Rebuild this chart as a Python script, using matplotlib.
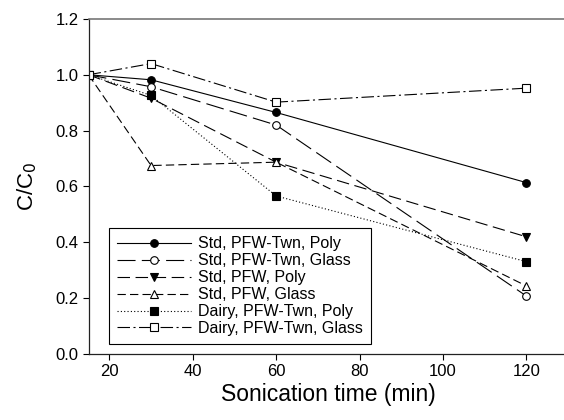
import matplotlib
matplotlib.use('Agg')
import matplotlib.pyplot as plt

# Sonication time (min)
time_min = [15, 30, 60, 120]

# C/C0 for each treatment
std_twn_poly = [1.0, 0.982, 0.865, 0.614]
std_twn_glass = [1.0, 0.957, 0.820, 0.208]
std_pfw_poly = [1.0, 0.916, 0.687, 0.420]
std_pfw_glass = [1.0, 0.675, 0.687, 0.244]
dairy_twn_poly = [1.0, 0.926, 0.566, 0.331]
dairy_twn_glass = [1.0, 1.040, 0.902, 0.952]

labels = ['Std, PFW-Twn, Poly', 'Std, PFW-Twn, Glass', 'Std, PFW, Poly',
          'Std, PFW, Glass', 'Dairy, PFW-Twn, Poly', 'Dairy, PFW-Twn, Glass']

plt.rcParams['font.family'] = ['Liberation Sans', 'DejaVu Sans']
plt.rcParams['lines.scale_dashes'] = False

fig = plt.figure(figsize=(5.64, 4.2), dpi=100)
ax = fig.add_axes([0.157, 0.157, 0.850, 0.798])

series = [
    (std_twn_poly, 'o', 'black', '-'),
    (std_twn_glass, 'o', 'white', (0, (13, 4.5))),
    (std_pfw_poly, 'v', 'black', (0, (9, 4))),
    (std_pfw_glass, '^', 'white', (0, (6, 3))),
    (dairy_twn_poly, 's', 'black', (0, (0.8, 1.6))),
    (dairy_twn_glass, 's', 'white', (0, (9, 2.5, 1.5, 2.5))),
]

for (vals, mk, fc, ls), lab in zip(series, labels):
    ax.plot(time_min, vals, linestyle=ls, color='black', linewidth=0.8,
            marker=mk, markersize=5.5, markerfacecolor=fc,
            markeredgecolor='black', markeredgewidth=0.8, label=lab)

ax.set_xlim(15, 130)
ax.set_ylim(0, 1.2)
ax.set_xticks([20, 40, 60, 80, 100, 120])
ax.set_yticks([0.0, 0.2, 0.4, 0.6, 0.8, 1.0, 1.2])
ax.set_yticklabels(['0.0', '0.2', '0.4', '0.6', '0.8', '1.0', '1.2'])
ax.tick_params(direction='out', length=4, width=0.8, labelsize=12, pad=3,
               top=False, right=False)

for side in ['left', 'bottom']:
    ax.spines[side].set_color('#222222')
    ax.spines[side].set_linewidth(0.9)
ax.spines['top'].set_color('#777777')
ax.spines['top'].set_linewidth(1.2)
ax.spines['right'].set_visible(False)

ax.set_xlabel('Sonication time (min)', fontsize=16.5, labelpad=3)
ax.set_ylabel('C/C$_0$', fontsize=16, labelpad=12)

leg = ax.legend(loc='lower left', bbox_to_anchor=(0.043, 0.03), fontsize=11.5,
                handlelength=4.6, handletextpad=0.45, labelspacing=0.12,
                borderpad=0.5, borderaxespad=0, fancybox=False,
                framealpha=1, edgecolor='black')
leg.get_frame().set_linewidth(0.8)

fig.savefig('out.png', dpi=100)
